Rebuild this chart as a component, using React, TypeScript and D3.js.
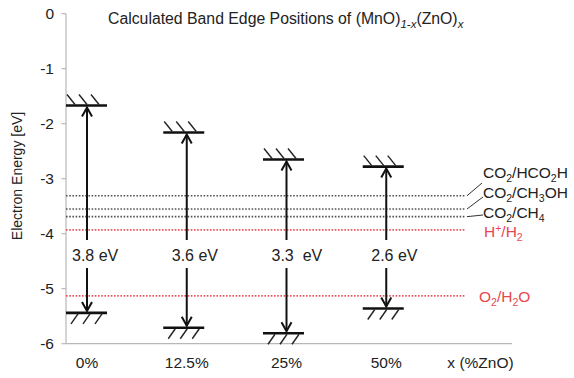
import React from "react";
import * as d3 from "d3";

const categories = ["0%", "12.5%", "25%", "50%"];
const cbValues = [-1.67, -2.16, -2.65, -2.78];
const vbValues = [-5.44, -5.71, -5.81, -5.36];
const gapLabels = ["3.8 eV", "3.6 eV", "3.3  eV", "2.6 eV"];
const yTicks = [0, -1, -2, -3, -4, -5, -6];
const grayLevels = [-3.31, -3.55, -3.69];
const redLevels = [-3.93, -5.13];

const W = 574, H = 378;
const FONT = "'Liberation Sans', Arial, sans-serif";

export default function App() {
  const y = d3.scaleLinear().domain([-6, 0]).range([343.7, 13.7]);
  const x = d3.scalePoint<string>().domain([...categories, "x (%ZnO)"]).range([87, 486]);
  const axisX0 = 66, axisX1 = 512, dotEnd = 465;
  const halfW = 20.5;
  const gapTop = 240, gapBot = 268, labelY = 255;

  const arrowHead = (cx: number, cy: number, dir: number) =>
    `M${cx - 5},${cy + dir * 9}L${cx},${cy}L${cx + 5},${cy + dir * 9}`;

  return (
    <svg width={W} height={H} style={{ position: "absolute", left: 0, top: 0, background: "#fff" }} fontFamily={FONT}>
      {/* Title */}
      <text x={108} y={24} fontSize={15.8} fill="#222">
        Calculated Band Edge Positions of (MnO)
        <tspan fontStyle="italic" fontSize={11.5} dy={4}>1-x</tspan>
        <tspan dy={-4}>(ZnO)</tspan>
        <tspan fontStyle="italic" fontSize={11.5} dy={4}>x</tspan>
      </text>

      {/* axes */}
      <line x1={axisX0} x2={axisX0} y1={y(0)} y2={y(-6)} stroke="#b8b8b8" strokeWidth={1.2} />
      <line x1={axisX0} x2={axisX1} y1={y(-6)} y2={y(-6)} stroke="#b8b8b8" strokeWidth={1.2} />
      {yTicks.map((t) => (
        <g key={t}>
          <line x1={61.5} x2={axisX0} y1={y(t)} y2={y(t)} stroke="#b8b8b8" strokeWidth={1.2} />
          <text x={54} y={y(t)} dy="0.36em" textAnchor="end" fontSize={15.5} fill="#222">
            {t === 0 ? "0" : `-${Math.abs(t)}`}
          </text>
        </g>
      ))}
      <text transform={`translate(22,${176}) rotate(-90)`} textAnchor="middle" fontSize={14} fill="#222">
        Electron Energy [eV]
      </text>

      {/* x labels */}
      {[...categories, "x (%ZnO)"].map((c) => (
        <text key={c} x={c === "x (%ZnO)" ? 480.5 : x(c)!} y={368} textAnchor="middle" fontSize={15.5} fill="#222">
          {c}
        </text>
      ))}

      {/* reference dotted lines */}
      {grayLevels.map((v) => (
        <line key={v} x1={axisX0} x2={dotEnd} y1={y(v)} y2={y(v)} stroke="#555" strokeWidth={1.6} strokeDasharray="1.6 1.6" />
      ))}
      {redLevels.map((v) => (
        <line key={v} x1={axisX0} x2={dotEnd} y1={y(v)} y2={y(v)} stroke="#e8545a" strokeWidth={1.6} strokeDasharray="1.6 1.6" />
      ))}

      {/* leader lines */}
      <line x1={467} y1={y(grayLevels[0])} x2={482} y2={183} stroke="#333" strokeWidth={1} />
      <line x1={467} y1={y(grayLevels[1])} x2={483} y2={197} stroke="#333" strokeWidth={1} />
      <line x1={467} y1={y(grayLevels[2])} x2={483} y2={215} stroke="#333" strokeWidth={1} />

      {/* reaction labels */}
      <text x={483} y={178} fontSize={15.5} fill="#222">
        CO<tspan fontSize={10.5} dy={4}>2</tspan><tspan dy={-4}>/HCO</tspan><tspan fontSize={10.5} dy={4}>2</tspan><tspan dy={-4}>H</tspan>
      </text>
      <text x={483} y={198} fontSize={15.5} fill="#222">
        CO<tspan fontSize={10.5} dy={4}>2</tspan><tspan dy={-4}>/CH</tspan><tspan fontSize={10.5} dy={4}>3</tspan><tspan dy={-4}>OH</tspan>
      </text>
      <text x={483} y={218} fontSize={15.5} fill="#222">
        CO<tspan fontSize={10.5} dy={4}>2</tspan><tspan dy={-4}>/CH</tspan><tspan fontSize={10.5} dy={4}>4</tspan>
      </text>
      <text x={484} y={237} fontSize={15.5} fill="#e8474f">
        H<tspan fontSize={10.5} dy={-5}>+</tspan><tspan dy={5}>/H</tspan><tspan fontSize={10.5} dy={4}>2</tspan>
      </text>
      <text x={479} y={302} fontSize={15.5} fill="#e8474f">
        O<tspan fontSize={10.5} dy={4}>2</tspan><tspan dy={-4}>/H</tspan><tspan fontSize={10.5} dy={4}>2</tspan><tspan dy={-4}>O</tspan>
      </text>

      {/* band edges */}
      {categories.map((c, i) => {
        const cx = x(c)!;
        const lx = i === 0 ? axisX0 + halfW : cx - 3;
        const yc = y(cbValues[i]);
        const yv = y(vbValues[i]);
        return (
          <g key={c}>
            {/* CB */}
            <line x1={lx - halfW} x2={lx + halfW} y1={yc} y2={yc} stroke="#111" strokeWidth={2.6} />
            {[0, 1, 2].map((k) => (
              <line key={k} x1={lx - halfW + 1 + k * 12} y1={yc - 11} x2={lx - halfW + 9 + k * 12} y2={yc - 1} stroke="#222" strokeWidth={1.4} />
            ))}
            {/* VB */}
            <line x1={lx - halfW} x2={lx + halfW} y1={yv} y2={yv} stroke="#111" strokeWidth={2.6} />
            {[0, 1, 2].map((k) => (
              <line key={k} x1={lx - halfW + 5 + k * 12} y1={yv + 11} x2={lx - halfW + 12 + k * 12} y2={yv + 1} stroke="#222" strokeWidth={1.4} />
            ))}
            {/* arrows */}
            <line x1={cx} x2={cx} y1={gapTop} y2={yc + 2} stroke="#111" strokeWidth={2} />
            <path d={arrowHead(cx, yc + 2, 1)} fill="none" stroke="#111" strokeWidth={2} />
            <line x1={cx} x2={cx} y1={gapBot} y2={yv - 2} stroke="#111" strokeWidth={2} />
            <path d={arrowHead(cx, yv - 2, -1)} fill="none" stroke="#111" strokeWidth={2} />
            <text x={cx - 15} y={labelY} dy="0.36em" textAnchor="start" fontSize={16} fill="#222" style={{ whiteSpace: "pre" }}>
              {gapLabels[i]}
            </text>
          </g>
        );
      })}
    </svg>
  );
}
